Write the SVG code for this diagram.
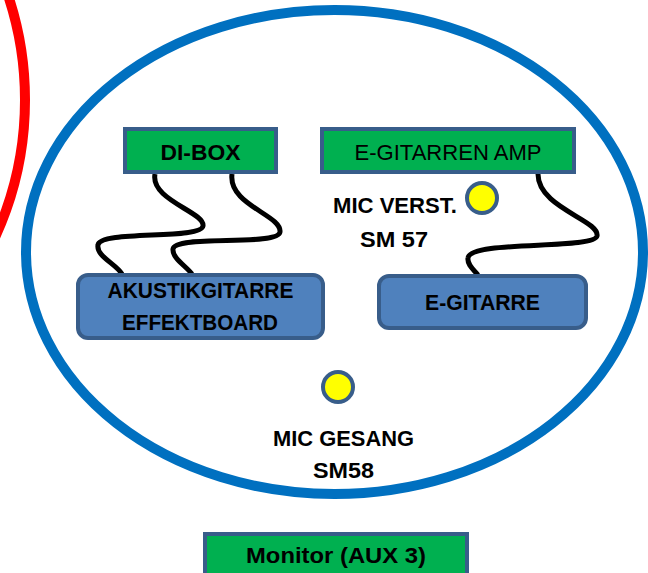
<svg xmlns="http://www.w3.org/2000/svg" width="648" height="573" viewBox="0 0 648 573">
<style>
.box-g{fill:#00B050;stroke:#385D8A;stroke-width:4}
.box-b{fill:#4F81BD;stroke:#385D8A;stroke-width:4}
.mic{fill:#FFFF00;stroke:#385D8A;stroke-width:4}
.cable{fill:none;stroke:#000;stroke-width:5;stroke-linecap:butt}
text{font-family:"Liberation Sans",Arial,sans-serif;font-size:22.5px;font-weight:bold;fill:#000;text-anchor:middle}
text.reg{font-weight:normal}
</style>
<rect width="648" height="573" fill="#fff"/>
<ellipse id="red-area" cx="-245" cy="100" rx="270" ry="300" fill="none" stroke="#FF0000" stroke-width="10"/>
<ellipse id="stage" cx="334.5" cy="252" rx="308.5" ry="242" fill="none" stroke="#0070C0" stroke-width="10"/>
<g id="connectors">
<path class="cable" d="M155,174 C150,200 205,212 203,226 C201,240 100,230 98,245 C96,256 116,264 122,274"/>
<path class="cable" d="M232,174 C228,205 282,215 280,232 C278,247 175,234 173,249 C172,258 186,266 192,274"/>
<path class="cable" d="M538,174 C538,208 600,220 597,236 C594,250 470,240 468,258 C467,265 474,270 478,275"/>
</g>
<g id="di-box">
<rect class="box-g" x="125" y="129" width="151" height="43"/>
<text x="200.5" y="160" textLength="80" lengthAdjust="spacingAndGlyphs">DI-BOX</text>
</g>
<g id="amp">
<rect class="box-g" x="322" y="129" width="252" height="43"/>
<text class="reg" x="448" y="160" textLength="187" lengthAdjust="spacingAndGlyphs">E-GITARREN AMP</text>
</g>
<g id="akustik">
<rect class="box-b" x="78" y="275" width="245" height="63" rx="10"/>
<text x="200.5" y="298" textLength="186" lengthAdjust="spacingAndGlyphs">AKUSTIKGITARRE</text>
<text x="200" y="330" textLength="156" lengthAdjust="spacingAndGlyphs">EFFEKTBOARD</text>
</g>
<g id="e-gitarre">
<rect class="box-b" x="379" y="276" width="207" height="52" rx="10"/>
<text x="482.5" y="310" textLength="115" lengthAdjust="spacingAndGlyphs">E-GITARRE</text>
</g>
<g id="mic-verst">
<circle class="mic" cx="482" cy="198" r="15"/>
<text x="395" y="213" textLength="124" lengthAdjust="spacingAndGlyphs">MIC VERST.</text>
<text x="394" y="247" textLength="68" lengthAdjust="spacingAndGlyphs">SM 57</text>
</g>
<g id="mic-gesang">
<circle class="mic" cx="338" cy="387" r="15"/>
<text x="343.5" y="446" textLength="141" lengthAdjust="spacingAndGlyphs">MIC GESANG</text>
<text x="343.5" y="478" textLength="61" lengthAdjust="spacingAndGlyphs">SM58</text>
</g>
<g id="monitor">
<rect class="box-g" x="205" y="534" width="262" height="42"/>
<text x="336" y="563" textLength="180" lengthAdjust="spacingAndGlyphs">Monitor (AUX 3)</text>
</g>
</svg>
